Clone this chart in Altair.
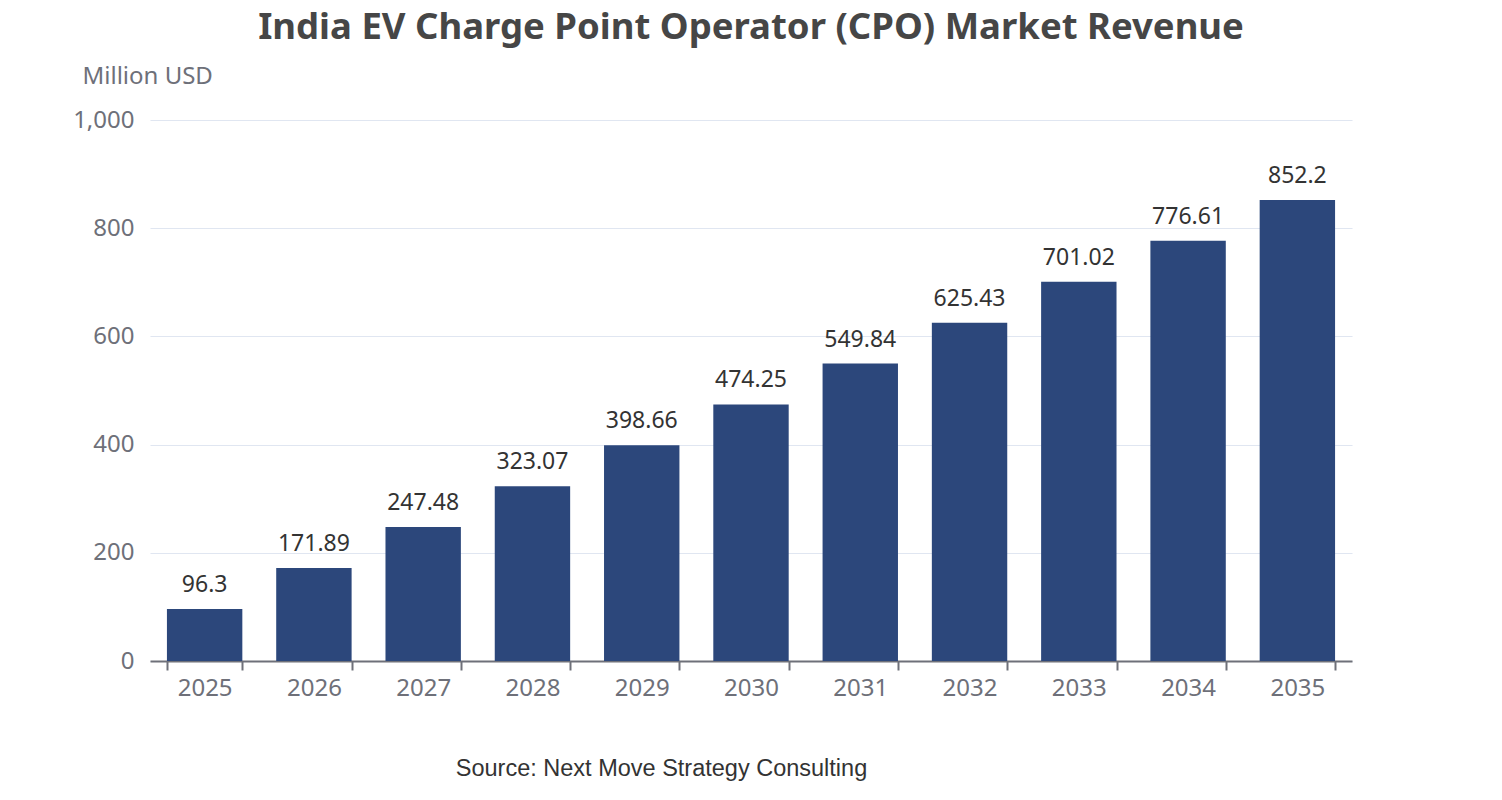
import altair as alt
import pandas as pd

years = ["2025", "2026", "2027", "2028", "2029", "2030", "2031", "2032", "2033", "2034", "2035"]
revenue = [96.3, 171.89, 247.48, 323.07, 398.66, 474.25, 549.84, 625.43, 701.02, 776.61, 852.2]
label_text = ["96.3", "171.89", "247.48", "323.07", "398.66", "474.25", "549.84", "625.43", "701.02", "776.61", "852.2"]

df = pd.DataFrame({"year": years, "revenue": revenue, "label": label_text})

FONT = "Noto Sans"

x = alt.X("year:N", sort=years,
          scale=alt.Scale(paddingInner=0.31, paddingOuter=0.155),
          axis=alt.Axis(title="Source: Next Move Strategy Consulting",
                        titleFont="Liberation Sans", titleFontSize=23.5, titleFontWeight="normal",
                        titleColor="#333333", titleX=511, titleY=114, titleAlign="center",
                        titleBaseline="alphabetic",
                        labelAngle=0, labelFont=FONT, labelFontSize=24, labelColor="#6e7079",
                        labelPadding=6, domainColor="#6e7079", domainWidth=2,
                        tickColor="#6e7079", tickWidth=2, tickSize=9, tickBand="extent",
                        grid=False))

y = alt.Y("revenue:Q",
          scale=alt.Scale(domain=[0, 1000]),
          axis=alt.Axis(title="Million USD", titleAngle=0, titleAlign="left",
                        titleBaseline="alphabetic", titleX=-68, titleY=-37,
                        titleFont=FONT, titleFontSize=24, titleFontWeight="normal",
                        titleColor="#6e7079",
                        values=[0, 200, 400, 600, 800, 1000], format=",d",
                        labelFont=FONT, labelFontSize=24, labelColor="#6e7079",
                        labelPadding=16, domain=False, ticks=False,
                        gridColor="#e0e6f1", gridWidth=1.2))

bars = alt.Chart(df).mark_bar(color="#2c477b").encode(x=x, y=y)

labels = alt.Chart(df).mark_text(font=FONT, fontSize=23, color="#333333",
                                 baseline="alphabetic", dy=-17).encode(
    x=alt.X("year:N", sort=years), y="revenue:Q", text="label:N")

chart = alt.layer(bars, labels).properties(
    width=1202, height=541,
    title=alt.TitleParams("India EV Charge Point Operator (CPO) Market Revenue",
                          font=FONT, fontSize=36.5, fontWeight="bold", color="#464646",
                          anchor="middle", frame="group", offset=18),
    autosize=alt.AutoSizeParams(type="none"),
    padding={"left": 142, "top": 112, "right": 140, "bottom": 128},
).configure_view(stroke=None)

chart.save("out.html", embed_options={"renderer": "svg", "actions": False})
